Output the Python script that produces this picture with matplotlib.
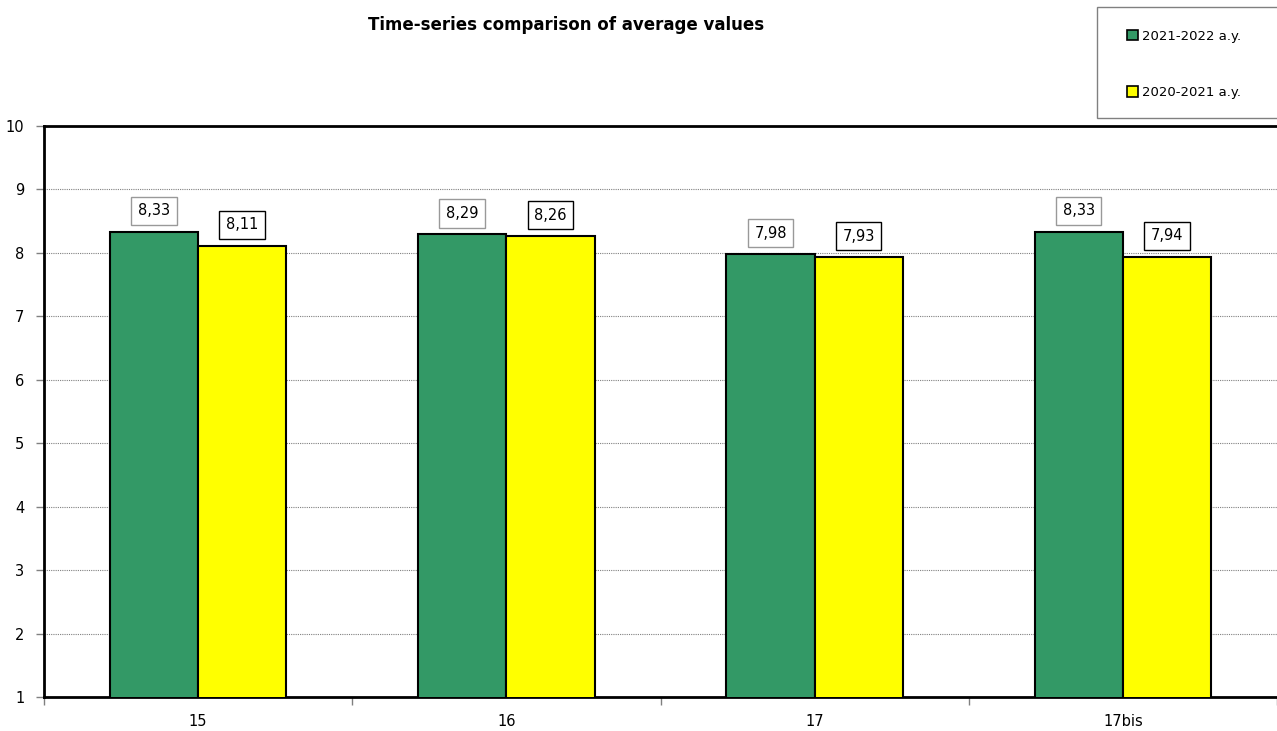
import matplotlib

matplotlib.use("Agg")
import matplotlib.pyplot as plt  # noqa: E402
import numpy as np  # noqa: E402
from matplotlib.patches import Patch, Rectangle  # noqa: E402

categories = ["15", "16", "17", "17bis"]
series_names = ["2021-2022 a.y.", "2020-2021 a.y."]
values_2122 = [8.33, 8.29, 7.98, 8.33]
values_2021 = [8.11, 8.26, 7.93, 7.94]
y_ticks = list(range(1, 11))

GREEN = "#339966"
YELLOW = "#FFFF00"
W = 0.286

fig = plt.figure(figsize=(12.77, 7.31), dpi=100)
ax = fig.add_axes([44 / 1277, 1 - 697 / 731, 1 - 44 / 1277, (697 - 126) / 731])

x = np.arange(len(categories))
b1 = ax.bar(x - W / 2, values_2122, W, bottom=0, color=GREEN, edgecolor="black",
            linewidth=1.5, zorder=3)
b2 = ax.bar(x + W / 2, values_2021, W, bottom=0, color=YELLOW, edgecolor="black",
            linewidth=1.5, zorder=3)

ax.set_ylim(1, 10)
ax.set_xlim(-0.5, len(categories) - 0.5)
ax.set_yticks(y_ticks)
ax.set_yticklabels([str(t) for t in y_ticks], fontsize=10.5)
ax.set_xticks(x)
ax.set_xticklabels(categories, fontsize=10.5)
ax.set_xticks(np.arange(len(categories) + 1) - 0.5, minor=True)
ax.tick_params(axis="x", which="major", length=0, pad=12)
ax.tick_params(axis="x", which="minor", length=6, color="gray", width=1)
ax.tick_params(axis="y", length=6, color="gray", width=1, pad=8)
ax.yaxis.grid(True, color="gray", linestyle=(0, (1, 1)), linewidth=0.8, zorder=0)

for side in ("left", "top", "bottom"):
    ax.spines[side].set_color("black")
    ax.spines[side].set_linewidth(2)
ax.spines["right"].set_visible(False)

# etiquetas de valor (verde: borda cinza, amarelo: borda preta)
for bars, vals, ec in ((b1, values_2122, "#999999"), (b2, values_2021, "black")):
    for rect, v in zip(bars, vals):
        ax.annotate(f"{v:.2f}".replace(".", ","),
                    (rect.get_x() + rect.get_width() / 2, v),
                    xytext=(0, 21), textcoords="offset pixels",
                    ha="center", va="center", fontsize=10.5, zorder=4,
                    bbox=dict(boxstyle="square,pad=0.45", fc="white", ec=ec, lw=1))

fig.text(566 / 1277, 1 - 25 / 731, "Time-series comparison of average values",
         ha="center", va="center", fontsize=12, fontweight="bold")

# moldura da legenda (passa da borda direita)
fig.patches.append(Rectangle((1097 / 1277, 1 - 118 / 731), 0.2, 111 / 731,
                             transform=fig.transFigure, fc="white", ec="gray",
                             lw=1, zorder=1))
handles = [Patch(facecolor=GREEN, edgecolor="black", linewidth=1.2),
           Patch(facecolor=YELLOW, edgecolor="black", linewidth=1.2)]
leg = fig.legend(handles, series_names, loc="upper left",
                 bbox_to_anchor=(1097 / 1277, 1.0), frameon=False,
                 fontsize=9.5, handlelength=0.85, handleheight=0.85, handletextpad=0.3,
                 labelspacing=3.3, borderpad=1.75)

plt.savefig("out.png", dpi=100)
